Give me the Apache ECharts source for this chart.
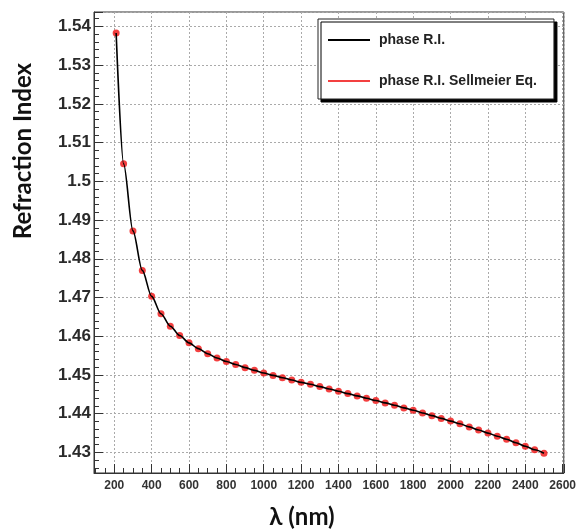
<!DOCTYPE html>
<html><head><meta charset="utf-8">
<script src="https://cdn.jsdelivr.net/npm/echarts@6/dist/echarts.min.js"></script>
<style>html,body{margin:0;padding:0;background:#fff}#c{width:579px;height:532px}</style>
</head><body><div id="c"></div>
<script>
// Wavelengths (nm) of the plotted points
const wavelengths = [210, 250, 300, 350, 400, 450, 500, 550, 600, 650, 700, 750, 800, 850, 900, 950,
  1000, 1050, 1100, 1150, 1200, 1250, 1300, 1350, 1400, 1450, 1500, 1550, 1600, 1650, 1700, 1750,
  1800, 1850, 1900, 1950, 2000, 2050, 2100, 2150, 2200, 2250, 2300, 2350, 2400, 2450, 2500];
// phase refraction index (black curve)
const phaseRI = [1.5383, 1.5045, 1.4872, 1.4770, 1.4703, 1.4658, 1.4626, 1.4602, 1.4583, 1.4568, 1.4555, 1.4544, 1.4535, 1.4527, 1.4519, 1.4512,
  1.4505, 1.4499, 1.4493, 1.4487, 1.4481, 1.4476, 1.4470, 1.4464, 1.4458, 1.4452, 1.4446, 1.4440, 1.4434, 1.4428, 1.4422, 1.4415,
  1.4409, 1.4402, 1.4395, 1.4388, 1.4381, 1.4374, 1.4366, 1.4358, 1.4350, 1.4342, 1.4334, 1.4325, 1.4316, 1.4307, 1.4298];
// phase refraction index from Sellmeier equation (red markers)
const sellmeierRI = [1.5383, 1.5045, 1.4872, 1.4770, 1.4703, 1.4658, 1.4626, 1.4602, 1.4583, 1.4568, 1.4555, 1.4544, 1.4535, 1.4527, 1.4519, 1.4512,
  1.4505, 1.4499, 1.4493, 1.4487, 1.4481, 1.4476, 1.4470, 1.4464, 1.4458, 1.4452, 1.4446, 1.4440, 1.4434, 1.4428, 1.4422, 1.4415,
  1.4409, 1.4402, 1.4395, 1.4388, 1.4381, 1.4374, 1.4366, 1.4358, 1.4350, 1.4342, 1.4334, 1.4325, 1.4316, 1.4307, 1.4298];
const xTickLabels = [200, 400, 600, 800, 1000, 1200, 1400, 1600, 1800, 2000, 2200, 2400, 2600];
const yTickLabels = [1.43, 1.44, 1.45, 1.46, 1.47, 1.48, 1.49, 1.5, 1.51, 1.52, 1.53, 1.54];
const seriesNames = ['phase R.I.', 'phase R.I. Sellmeier Eq.'];

const chart = echarts.init(document.getElementById('c'), null, {renderer: 'canvas'});
const lineData = wavelengths.map((w, i) => [w, phaseRI[i]]);
const dotData = wavelengths.map((w, i) => [w, sellmeierRI[i]]);

chart.setOption({
  animation: false,
  backgroundColor: '#fff',
  grid: {left: 94, right: 13.5, top: 12, bottom: 59, show: true, borderColor: '#333', borderWidth: 1, backgroundColor: 'transparent'},
  xAxis: {
    type: 'value', min: 91.5, max: 2606, splitNumber: 13,
    axisLine: {show: true, onZero: false, lineStyle: {color: '#333', width: 1}},
    axisTick: {show: true, inside: true, length: 9, lineStyle: {color: '#333'}},
    minorTick: {show: true, splitNumber: 4, length: 5, lineStyle: {color: '#333'}},
    splitLine: {show: true, lineStyle: {color: '#aaa', type: [2, 2], width: 1}},
    axisLabel: {
      margin: 7, fontSize: 12, fontWeight: 'bold', color: '#333', fontFamily: 'Liberation Sans',
      formatter: v => { const r = Math.round(v); return (Math.abs(v - r) < 1e-6 && xTickLabels.includes(r)) ? String(r) : ''; }
    }
  },
  yAxis: {
    type: 'value', min: 1.4247, max: 1.5437, splitNumber: 12,
    axisLine: {show: true, onZero: false, lineStyle: {color: '#333', width: 1}},
    axisTick: {show: true, inside: true, length: 9, lineStyle: {color: '#333'}},
    minorTick: {show: true, splitNumber: 5, length: 5, lineStyle: {color: '#333'}},
    splitLine: {show: true, lineStyle: {color: '#aaa', type: [2, 2], width: 1}},
    axisLabel: {
      margin: 3, fontSize: 17, fontWeight: 'bold', color: '#2a2a2a', fontFamily: 'Liberation Sans',
      formatter: v => { const t = yTickLabels.find(t => Math.abs(v - t) < 1e-6); return t === undefined ? '' : String(t); }
    }
  },
  legend: {
    left: 318, top: 19, orient: 'vertical',
    backgroundColor: '#fff', borderColor: '#222', borderWidth: 1,
    shadowColor: '#000', shadowBlur: 0, shadowOffsetX: 3, shadowOffsetY: 3,
    padding: [14, 17, 11, 10], itemGap: 27, itemWidth: 42, itemHeight: 2,
    textStyle: {fontSize: 14, fontWeight: 'bold', color: '#222', fontFamily: 'Liberation Sans', lineHeight: 14, padding: [0, 0, 0, 4]},
    data: [{name: seriesNames[0], icon: 'rect'}, {name: seriesNames[1], icon: 'rect'}]
  },
  graphic: [
    {type: 'text', x: 23, y: 151, rotation: Math.PI / 2,
      style: {text: 'Refraction Index', fontSize: 24, fontWeight: 'bold', fontFamily: 'Lato', fill: '#111', align: 'center', verticalAlign: 'middle'}},
    {type: 'text', x: 302, y: 517,
      style: {text: 'λ (nm)', fontSize: 24, fontWeight: 'bold', fontFamily: 'Lato', fill: '#111', align: 'center', verticalAlign: 'middle'}}
  ],
  series: [
    {name: seriesNames[0], type: 'line', data: lineData, showSymbol: false, smooth: 0.3, smoothMonotone: 'x',
      itemStyle: {color: '#000'}, lineStyle: {color: '#000', width: 1.6}, z: 4},
    {name: seriesNames[1], type: 'scatter', data: dotData, symbol: 'circle', symbolSize: 7,
      itemStyle: {color: '#f01010'}, z: 3}
  ]
});
</script>
</body></html>
